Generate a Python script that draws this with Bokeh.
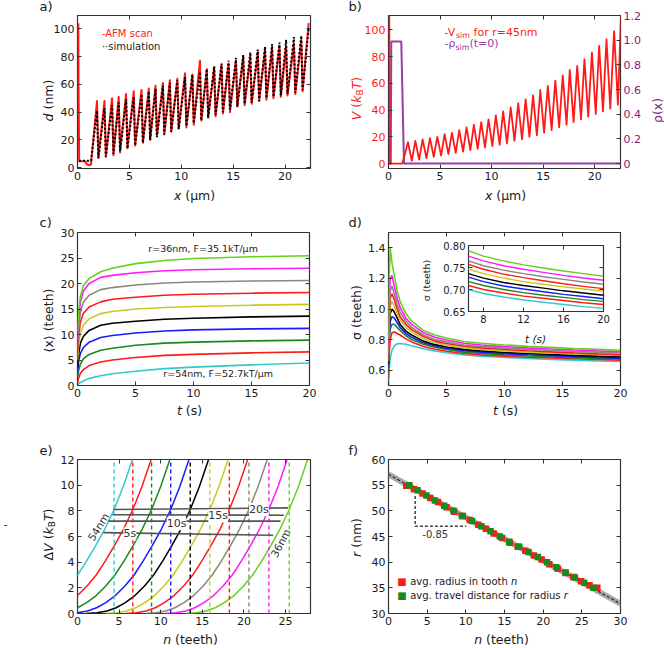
import math
from bokeh.plotting import figure
from bokeh.layouts import column, row
from bokeh.models import Range1d, LinearAxis, FixedTicker, Label, CustomJSTickFormatter
from bokeh.embed import file_html
from bokeh.resources import INLINE

FONT = "DejaVu Sans"
INK = "#1a1a1a"
RED = "#ff1a1a"
PURPLE_LINE = "#9440a6"
PURPLE_TEXT = "#7d1c7d"

# ---------------- panel a: AFM scan vs simulation ----------------
A_LEAD_X = [0.08, 0.10, 0.16, 0.75, 0.90, 1.15, 1.30]
A_LEAD_Y = [104, 60, 4.7, 4.7, 2.5, 1.8, 2.5]
SIM_LEAD_X = [0.14, 1.30]
SIM_LEAD_Y = [5.0, 5.0]
A_PEAK_X = [1.88, 2.60, 3.33, 3.97, 4.68, 5.42, 6.17, 6.87, 7.52, 8.23, 8.90, 9.62, 10.36, 11.07, 11.80,
            12.46, 13.17, 13.88, 14.56, 15.27, 15.97, 16.65, 17.37, 18.07, 18.75, 19.46, 20.10, 20.85, 21.56, 22.27]
A_TROUGH_X = [2.01, 2.73, 3.46, 4.10, 4.81, 5.55, 6.30, 7.00, 7.65, 8.36, 9.03, 9.75, 10.49, 11.20, 11.93,
              12.59, 13.30, 14.01, 14.69, 15.40, 16.10, 16.78, 17.50, 18.20, 18.88, 19.59, 20.23, 20.98, 21.69]
AFM_PEAK = [48, 48, 50, 51, 53, 55, 56, 57, 59, 61, 63, 64, 68, 67, 77, 71, 72, 74, 75, 77, 80, 80, 83, 85,
            86, 88, 87, 89, 92, 104]
AFM_TROUGH = [7, 8, 9, 11, 14, 16, 18, 20, 23, 24, 26, 28, 29, 31, 34, 36, 37, 39, 40, 44, 45, 46, 48, 49,
              50, 51, 52, 53, 55]
SIM_PEAK = [41, 43, 45, 47, 49, 51, 53, 55, 57, 59, 61, 63, 65, 67, 69, 71, 73, 75, 77, 79, 81, 83, 85, 87,
            89, 90, 92, 94, 95, 100]
SIM_TROUGH = [7, 8, 10, 12, 14, 16, 18, 20, 22, 24, 26, 28, 30, 32, 34, 36, 38, 40, 42, 44, 46, 47, 48, 50,
              51, 52, 53, 54, 56]

# ---------------- panel b: potential and initial density ----------------
B_LEAD_X = [0.08, 0.12, 1.35]
B_LEAD_Y = [111, 0, 0]
B_PEAK_X = [1.89, 2.60, 3.31, 4.02, 4.73, 5.44, 6.15, 6.86, 7.57, 8.28, 8.99, 9.70, 10.41, 11.12, 11.85,
            12.58, 13.30, 14.02, 14.72, 15.45, 16.18, 16.90, 17.58, 18.30, 19.00, 19.73, 20.43, 21.14, 21.88, 22.55]
B_TROUGH_X = [2.26, 2.97, 3.68, 4.39, 5.10, 5.81, 6.52, 7.23, 7.94, 8.65, 9.36, 10.07, 10.78, 11.49, 12.22,
              12.95, 13.67, 14.39, 15.09, 15.82, 16.55, 17.27, 17.95, 18.67, 19.37, 20.10, 20.80, 21.51, 22.25]
V_PEAK = [16, 17, 18, 19, 20, 22, 23, 25, 27, 29, 31, 33, 36, 39, 42, 45, 48, 51, 55, 58, 62, 66, 70, 73,
          78, 83, 88, 93, 99, 111]
V_TROUGH = [2, 3, 4, 5, 6, 7, 8, 9, 10, 11, 12, 13, 14, 15, 17, 18, 20, 21, 23, 25, 27, 29, 31, 33, 35, 37,
            39, 41, 44]
RHO_X = [0.0, 0.22, 0.27, 1.24, 1.50, 22.6]
RHO_Y = [0.0, 0.0, 0.99, 0.99, 0.0, 0.0]

# ---------------- panel c: mean position <x>(t) ----------------
COLS = ["#33c9c9", "#ff1a1a", "#1a8a1a", "#1a1aff", "#000000", "#c8c81e", "#ff1a1a", "#8c8778",
        "#ff19ff", "#66d11a"]
T_C = [0, 0.1, 0.25, 0.5, 1, 2, 3, 5, 7.5, 10, 15, 20]
X_MEAN = [
    [0.0, 0.3, 0.6, 0.9, 1.4, 1.9, 2.3, 2.8, 3.3, 3.6, 4.05, 4.4],
    [0.5, 1.5, 2.4, 3.1, 3.9, 4.6, 5.0, 5.5, 5.9, 6.1, 6.4, 6.6],
    [1.5, 3.0, 4.2, 5.2, 6.1, 6.9, 7.3, 7.9, 8.3, 8.5, 8.75, 8.9],
    [2.5, 4.8, 6.3, 7.4, 8.5, 9.4, 9.8, 10.3, 10.7, 10.9, 11.1, 11.2],
    [3.5, 6.2, 8.3, 9.6, 10.8, 11.8, 12.2, 12.6, 13.0, 13.2, 13.45, 13.6],
    [5.0, 8.0, 10.3, 11.8, 13.1, 14.1, 14.5, 15.0, 15.3, 15.5, 15.75, 15.9],
    [6.5, 9.8, 12.4, 14.1, 15.4, 16.4, 16.9, 17.3, 17.7, 17.9, 18.1, 18.25],
    [7.5, 11.5, 14.3, 16.3, 17.7, 18.8, 19.2, 19.7, 20.1, 20.3, 20.5, 20.6],
    [9.0, 13.2, 16.3, 18.5, 20.0, 21.2, 21.6, 22.1, 22.5, 22.7, 22.9, 23.0],
    [10.5, 14.5, 17.5, 19.5, 21.0, 22.3, 23.0, 23.9, 24.5, 24.9, 25.25, 25.45],
]

# ---------------- panel d: width sigma(t) ----------------
T_D = [0, 0.05, 0.15, 0.3, 0.5, 0.75, 1, 1.5, 2, 3, 4, 5, 6.5, 8, 10, 12, 14, 16, 18, 20]
SIGMA = [
    [0.50, 0.60, 0.68, 0.73, 0.76, 0.772, 0.775, 0.77, 0.76, 0.74, 0.725, 0.714, 0.700, 0.691, 0.683, 0.676, 0.671, 0.666, 0.661, 0.657],
    [0.55, 0.70, 0.80, 0.845, 0.85, 0.84, 0.83, 0.805, 0.785, 0.755, 0.737, 0.724, 0.709, 0.700, 0.692, 0.685, 0.680, 0.675, 0.670, 0.666],
    [0.60, 0.78, 0.87, 0.90, 0.90, 0.88, 0.86, 0.825, 0.80, 0.77, 0.75, 0.735, 0.718, 0.709, 0.700, 0.693, 0.687, 0.682, 0.677, 0.673],
    [0.62, 0.82, 0.92, 0.95, 0.94, 0.91, 0.88, 0.84, 0.815, 0.78, 0.758, 0.743, 0.728, 0.718, 0.708, 0.701, 0.695, 0.689, 0.684, 0.679],
    [0.64, 0.86, 0.97, 1.00, 0.98, 0.94, 0.90, 0.855, 0.83, 0.79, 0.767, 0.752, 0.736, 0.726, 0.716, 0.709, 0.703, 0.697, 0.692, 0.687],
    [0.66, 0.90, 1.02, 1.05, 1.02, 0.97, 0.93, 0.88, 0.85, 0.805, 0.78, 0.764, 0.746, 0.736, 0.726, 0.718, 0.712, 0.706, 0.701, 0.696],
    [0.68, 0.95, 1.07, 1.10, 1.06, 1.00, 0.95, 0.90, 0.865, 0.82, 0.79, 0.775, 0.757, 0.746, 0.735, 0.727, 0.720, 0.713, 0.707, 0.702],
    [0.70, 0.98, 1.12, 1.15, 1.10, 1.03, 0.98, 0.92, 0.88, 0.83, 0.80, 0.785, 0.765, 0.754, 0.744, 0.736, 0.729, 0.723, 0.717, 0.712],
    [0.75, 1.05, 1.20, 1.22, 1.15, 1.07, 1.01, 0.94, 0.90, 0.845, 0.815, 0.797, 0.776, 0.765, 0.754, 0.746, 0.739, 0.732, 0.726, 0.721],
    [0.80, 1.20, 1.40, 1.30, 1.22, 1.12, 1.05, 0.97, 0.92, 0.86, 0.83, 0.81, 0.788, 0.776, 0.765, 0.756, 0.749, 0.742, 0.736, 0.730],
]

# ---------------- panel e: effective potentials ----------------
E_LEVELS = [0.0, 0.05, 0.2, 0.45, 0.85, 1.4, 2.15, 3.0, 4.1, 5.3, 6.6, 8.1, 9.9, 12.0]
E_N = [
    [-8.1, -6.8, -5.6, -4.5, -3.4, -2.25, -1.1, 0.0, 1.1, 2.2, 3.3, 4.4, 5.5, 6.6],
    [-5.85, -4.55, -3.35, -2.25, -1.15, 0.0, 1.15, 2.25, 3.35, 4.45, 5.55, 6.65, 7.75, 8.85],
    [-3.6, -2.3, -1.1, 0.0, 1.1, 2.25, 3.4, 4.5, 5.6, 6.7, 7.8, 8.9, 10.0, 11.1],
    [-1.3, 0.0, 1.2, 2.3, 3.4, 4.55, 5.7, 6.8, 7.9, 9.0, 10.1, 11.2, 12.3, 13.4],
    [1.05, 2.35, 3.55, 4.65, 5.75, 6.9, 8.05, 9.15, 10.25, 11.35, 12.45, 13.55, 14.65, 15.75],
    [3.4, 4.7, 5.9, 7.0, 8.1, 9.25, 10.4, 11.5, 12.6, 13.7, 14.8, 15.9, 17.0, 18.1],
    [5.75, 7.05, 8.25, 9.35, 10.45, 11.6, 12.75, 13.85, 14.95, 16.05, 17.15, 18.25, 19.35, 20.45],
    [8.1, 9.4, 10.6, 11.7, 12.8, 13.95, 15.1, 16.2, 17.3, 18.4, 19.5, 20.6, 21.7, 22.8],
    [10.5, 11.8, 13.0, 14.1, 15.2, 16.35, 17.5, 18.6, 19.7, 20.8, 21.9, 23.0, 24.1, 25.2],
    [12.95, 14.25, 15.45, 16.55, 17.65, 18.8, 19.95, 21.05, 22.15, 23.25, 24.35, 25.45, 26.55, 27.65],
]
E_DASH_N = [4.4, 6.65, 8.9, 11.2, 13.55, 15.9, 18.25, 20.6, 23.0, 25.45]
E_DASH_V = [0, 12]
TIME_LABELS = ["5s", "10s", "15s", "20s"]
TIME_N0 = [3.1, 3.7, 4.2, 4.3]
TIME_N1 = [23.5, 24.4, 24.8, 25.3]
TIME_V0 = [6.3, 7.2, 7.7, 8.1]
TIME_V1 = [6.1, 7.2, 7.66, 8.23]
TIME_LBL_N = [6.3, 11.9, 16.9, 21.8]
TIME_LBL_V = [6.2, 7.0, 7.6, 8.1]

# ---------------- panel f: radius vs travel distance ----------------
F_RED_N = [2.3, 3.3, 4.4, 5.4, 6.4, 7.5, 8.5, 9.5, 10.5, 11.6, 12.6, 13.6, 14.7, 15.7, 16.7, 17.7, 18.8,
           19.8, 20.8, 21.9, 22.9, 23.9, 24.9, 26.0, 27.0]
F_RED_R = [54.9, 54.2, 53.4, 52.5, 51.7, 50.7, 49.8, 49.0, 48.2, 47.3, 46.5, 45.6, 44.7, 43.8, 43.0, 42.2,
           41.3, 40.5, 39.6, 38.7, 37.9, 37.1, 36.3, 35.5, 35.0]
F_GREEN_N = [2.7, 3.75, 4.9, 6.0, 7.2, 8.4, 9.6, 10.8, 12.0, 13.2, 14.4, 15.6, 16.9, 18.1, 19.3, 20.5, 21.7,
             22.9, 24.1, 25.3, 26.5]
F_GREEN_R = [55, 54, 53, 52, 51, 50, 49, 48, 47, 46, 45, 44, 43, 42, 41, 40, 39, 38, 37, 36, 35]
FIT_N = [0, 30]
FIT_R = [57.1, 31.9]
FIT_LO = [56.45, 31.25]
FIT_HI = [57.75, 32.55]
TRI_N = [3.45, 3.45, 10.05]
TRI_R = [52.9, 47.0, 47.0]

# ------------------------------------------------------------------
WID = {' ': .318, '(': .390, ')': .390, '-': .361, '=': .838, '.': .318, ',': .318, '/': .337,
       'a': .613, 'b': .635, 'c': .550, 'd': .635, 'e': .615, 'f': .352, 'g': .635, 'h': .634, 'i': .278,
       'k': .579, 'l': .278, 'm': .974, 'n': .634, 'o': .612, 'p': .635, 'r': .411, 's': .521, 't': .392,
       'u': .634, 'v': .592, 'x': .592, 'y': .592, 'B': .686, 'F': .575, 'T': .611, 'V': .684,
       'µ': .636, 'ρ': .635, 'σ': .634, 'Δ': .684, '⟨': .390, '⟩': .390}
for _d in "0123456789":
    WID[_d] = .636


def tw(s, fs):
    return sum(WID.get(ch, 0.62) for ch in s) * fs


def rich(p, x, y, pieces, fs, color=INK, angle=0.0, units="data", anchor="center"):
    sizes = [fs * (0.72 if sub else 1.0) for (_, _, sub) in pieces]
    widths = [tw(t, s) for (t, _, _), s in zip(pieces, sizes)]
    pos = -sum(widths) / 2 if anchor == "center" else 0.0
    for (t, it, sub), s, w in zip(pieces, sizes, widths):
        lead = tw(t[:len(t) - len(t.lstrip())], s)
        drop = 0.3 * fs if sub else 0.0
        if angle == 0:
            xo, yo = pos + lead, -drop
        else:
            xo, yo = drop, pos + lead
        p.add_layout(Label(x=x, y=y, x_units=units, y_units=units, x_offset=xo, y_offset=yo,
                           text=t.strip(), angle=angle, text_align="left", text_baseline="middle",
                           text_font=FONT, text_font_size=f"{s:.1f}px",
                           text_font_style="italic" if it else "normal", text_color=color))
        pos += w


def lab(p, x, y, text, fs, color=INK, units="data", align="left", angle=0.0, bg=None, italic=False):
    kw = {}
    if bg:
        kw["background_fill_color"] = bg
    p.add_layout(Label(x=x, y=y, x_units=units, y_units=units, text=text, angle=angle,
                       text_align=align, text_baseline="middle", text_font=FONT,
                       text_font_size=f"{fs}px", text_color=color,
                       text_font_style="italic" if italic else "normal", **kw))


def style_axis(ax, fs="11px", color=INK, blank=False):
    ax.major_tick_in = 4
    ax.major_tick_out = 0
    ax.minor_tick_line_color = None
    ax.axis_line_color = None
    ax.major_tick_line_color = "#333333"
    ax.major_tick_line_width = 1
    ax.major_label_text_font = FONT
    if blank:
        ax.major_label_text_font_size = "1px"
        ax.major_label_text_color = None
        ax.major_label_standoff = 0
    else:
        ax.major_label_text_font_size = fs
        ax.major_label_text_color = color
        ax.major_label_standoff = 3


def make_fig(w, h, bl, br, bt, bb, xr, yr, xt, yt, fs="11px", right=True, yfmt=None, ycolor=INK):
    p = figure(width=w, height=h, x_range=Range1d(*xr), y_range=Range1d(*yr),
               output_backend="svg", toolbar_location=None, tools="",
               min_border_left=bl, min_border_right=br, min_border_top=bt, min_border_bottom=bb)
    p.grid.visible = False
    p.outline_line_color = "#333333"
    p.outline_line_width = 1.2
    p.background_fill_color = "white"
    p.border_fill_color = "white"
    p.xaxis.ticker = FixedTicker(ticks=xt)
    p.yaxis.ticker = FixedTicker(ticks=yt)
    for ax in list(p.xaxis):
        style_axis(ax, fs)
    for ax in list(p.yaxis):
        style_axis(ax, fs, color=ycolor)
        if yfmt:
            ax.formatter = CustomJSTickFormatter(code=yfmt)
    top = LinearAxis(ticker=FixedTicker(ticks=xt))
    style_axis(top, blank=True)
    p.add_layout(top, "above")
    if right:
        rt = LinearAxis(ticker=FixedTicker(ticks=yt))
        style_axis(rt, blank=True)
        p.add_layout(rt, "right")
    return p


def saw(lead_x, lead_y, px, py, tx, ty):
    xs, ys = list(lead_x), list(lead_y)
    for i in range(len(px)):
        xs.append(px[i]); ys.append(py[i])
        if i < len(tx):
            xs.append(tx[i]); ys.append(ty[i])
    return xs, ys


PI2 = math.pi / 2
TITLE_FS = 12.5

# ---------------- panel a ----------------
pa = make_fig(330, 210, 77, 20, 15, 42, (0, 22.45), (-0.5, 109.5), [0, 5, 10, 15, 20], [0, 20, 40, 60, 80, 100])
ax_, ay_ = saw(A_LEAD_X, A_LEAD_Y, A_PEAK_X, AFM_PEAK, A_TROUGH_X, AFM_TROUGH)
pa.line(ax_, ay_, line_color=RED, line_width=2, line_join="round")
sx_, sy_ = saw(SIM_LEAD_X, SIM_LEAD_Y, A_PEAK_X, SIM_PEAK, A_TROUGH_X, SIM_TROUGH)
pa.line(sx_, sy_, line_color="black", line_width=2, line_dash="2 2")
lab(pa, 2.35, 96.4, "-AFM scan", 10, color=RED)
lab(pa, 2.35, 87.4, "··simulation", 10, color=INK)

# ---------------- panel b ----------------
pb = make_fig(334, 210, 58, 44, 15, 42, (0, 22.5), (-3.7, 110.7), [0, 5, 10, 15, 20],
              [0, 20, 40, 60, 80, 100], right=False, ycolor=RED)
pb.extra_y_ranges = {"rho": Range1d(-0.04, 1.2)}
rax = LinearAxis(y_range_name="rho", ticker=FixedTicker(ticks=[0, 0.2, 0.4, 0.6, 0.8, 1.0, 1.2]))
style_axis(rax, "11px", color=PURPLE_TEXT)
rax.formatter = CustomJSTickFormatter(code="return tick == 0 ? '0' : tick.toFixed(1);")
pb.add_layout(rax, "right")
pb.line(RHO_X, RHO_Y, y_range_name="rho", line_color=PURPLE_LINE, line_width=2)
bx_, by_ = saw(B_LEAD_X, B_LEAD_Y, B_PEAK_X, V_PEAK, B_TROUGH_X, V_TROUGH)
pb.line(bx_, by_, line_color=RED, line_width=1.8, line_join="round")
rich(pb, 5.43, 98.2, [("-V", False, False), ("sim", False, True), (" for r=45nm", False, False)], 11,
     color=RED, anchor="left")
rich(pb, 5.43, 89.6, [("-ρ", False, False), ("sim", False, True), ("(t=0)", False, False)], 11,
     color=PURPLE_LINE, anchor="left")

# ---------------- panel c ----------------
pc = make_fig(330, 220, 77, 21, 22, 45, (0, 20), (0, 30), [0, 5, 10, 15, 20], [0, 5, 10, 15, 20, 25, 30])
for vals, col in zip(X_MEAN, COLS):
    pc.line(T_C, vals, line_color=col, line_width=1.6)
lab(pc, 6.1, 26.9, "r=36nm, F=35.1kT/µm", 9.5)
lab(pc, 7.4, 2.3, "r=54nm, F=52.7kT/µm", 9.5)

# ---------------- panel d ----------------
pd_ = make_fig(334, 220, 58, 44, 22, 45, (0, 20), (0.5, 1.5), [0, 5, 10, 15, 20],
               [0.6, 0.8, 1.0, 1.2, 1.4], yfmt="return tick.toFixed(1);")
for vals, col in zip(SIGMA, COLS):
    pd_.line(T_D, vals, line_color=col, line_width=1.6)

# inset of panel d (overlaid on panel d)
pin = make_fig(191, 133, 48, 8, 4, 30, (6.5, 20), (0.65, 0.80), [8, 12, 16, 20], [0.65, 0.70, 0.75, 0.80],
               fs="10px", yfmt="return tick.toFixed(2);")
pin.border_fill_alpha = 0.0
for vals, col in zip(SIGMA, COLS):
    pin.line(T_D, vals, line_color=col, line_width=1.4)
pin.margin = (13, 0, 0, -244)

# ---------------- panel e ----------------
pe = make_fig(330, 218, 77, 20, 29, 35, (0, 28), (0, 12), [0, 5, 10, 15, 20, 25], [0, 2, 4, 6, 8, 10, 12])
for nv, col in zip(E_N, COLS):
    pe.line(nv, E_LEVELS, line_color=col, line_width=1.5)
for dn, col in zip(E_DASH_N, COLS):
    pe.line([dn, dn], E_DASH_V, line_color=col, line_width=1.4, line_dash="4 3")
for n0, n1, v0, v1 in zip(TIME_N0, TIME_N1, TIME_V0, TIME_V1):
    pe.line([n0, n1], [v0, v1], line_color="#555555", line_width=1.6)
for t, n, v in zip(TIME_LABELS, TIME_LBL_N, TIME_LBL_V):
    lab(pe, n, v, t, 11, color="#333333", align="center", bg="white")
lab(pe, 2.5, 6.75, "54nm", 10.5, color="#333333", align="center", angle=math.radians(58))
lab(pe, 24.4, 5.5, "36nm", 10.5, color="#333333", align="center", angle=math.radians(62))

# ---------------- panel f ----------------
pf = make_fig(334, 218, 58, 44, 29, 35, (0, 30), (30, 60), [0, 5, 10, 15, 20, 25, 30],
              [30, 35, 40, 45, 50, 55, 60])
pf.varea(x=FIT_N, y1=FIT_LO, y2=FIT_HI, fill_color="#9a9a9a", fill_alpha=0.85)
pf.line(FIT_N, FIT_R, line_color="#222222", line_width=1.1, line_dash="3 2")
pf.line(TRI_N, TRI_R, line_color="#444444", line_width=1.5, line_dash="3 2")
pf.scatter(F_RED_N, F_RED_R, marker="square", size=6.5, fill_color="#ff1a1a", line_color=None)
pf.scatter(F_GREEN_N, F_GREEN_R, marker="square", size=6.5, fill_color="#1a8a1a", line_color=None)
lab(pf, 6.05, 45.5, "-0.85", 10, color="#333333", align="center")
lab(pf, 1.73, 36.2, "■", 10, color="#ff1a1a", align="center")
lab(pf, 1.73, 33.57, "■", 10, color="#1a8a1a", align="center")
rich(pf, 2.81, 36.2, [("avg. radius in tooth ", False, False), ("n", True, False)], 10, anchor="left")
rich(pf, 2.81, 33.57, [("avg. travel distance for radius ", False, False), ("r", True, False)], 10,
     anchor="left")

# ---------------- page-level text layer (panel letters, axis titles) ----------------
ov = figure(width=664, height=648, x_range=Range1d(0, 664), y_range=Range1d(648, 0),
            output_backend="svg", toolbar_location=None, tools="", x_axis_type=None, y_axis_type=None,
            min_border=0, min_border_left=0, min_border_right=0, min_border_top=0, min_border_bottom=0)
ov.outline_line_color = None
ov.background_fill_alpha = 0.0
ov.border_fill_alpha = 0.0
ov.margin = (0, 0, 0, -664)

PANEL_LETTERS = ["a)", "b)", "c)", "d)", "e)", "f)"]
LETTER_X = [39, 348, 39, 348, 39, 348]
LETTER_Y = [6, 6, 222, 222, 450, 450]
for t, x, y in zip(PANEL_LETTERS, LETTER_X, LETTER_Y):
    lab(ov, x, y, t, 13)
lab(ov, 3, 523, "-", 11, color="#333333")

ITAL_X = [("x", True, False), (" (µm)", False, False)]
ITAL_T = [("t", True, False), (" (s)", False, False)]
ITAL_N = [("n", True, False), (" (teeth)", False, False)]
KBT = [("V", True, False), (" (", False, False), ("k", True, False), ("B", False, True),
       ("T", True, False), (")", False, False)]
rich(ov, 48, 100, [("d", True, False), (" (nm)", False, False)], TITLE_FS, angle=PI2)
rich(ov, 194, 195, ITAL_X, TITLE_FS)
rich(ov, 356, 98, KBT, TITLE_FS, color=RED, angle=PI2)
rich(ov, 657, 110, [("ρ(x)", False, False)], TITLE_FS, color=PURPLE_TEXT, angle=PI2)
rich(ov, 505, 195, ITAL_X, TITLE_FS)
rich(ov, 48, 320, [("⟨x⟩ (teeth)", False, False)], TITLE_FS, angle=PI2)
rich(ov, 189, 410, ITAL_T, TITLE_FS)
rich(ov, 356, 312, [("σ (teeth)", False, False)], TITLE_FS, angle=PI2)
rich(ov, 505, 410, ITAL_T, TITLE_FS)
rich(ov, 426, 280, [("σ (teeth)", False, False)], 9.5, angle=PI2)
rich(ov, 535, 338, [("t (s)", True, False)], 10.5)
rich(ov, 48, 534, [("Δ", False, False)] + KBT, TITLE_FS, angle=PI2)
rich(ov, 190, 639, ITAL_N, TITLE_FS)
rich(ov, 356, 537, [("r", True, False), (" (nm)", False, False)], TITLE_FS, angle=PI2)
rich(ov, 501, 639, ITAL_N, TITLE_FS)

layout = row(column(row(pa, pb), row(pc, pd_, pin), row(pe, pf)), ov)

with open("out.html", "w") as fh:
    fh.write(file_html(layout, INLINE, "figure"))
